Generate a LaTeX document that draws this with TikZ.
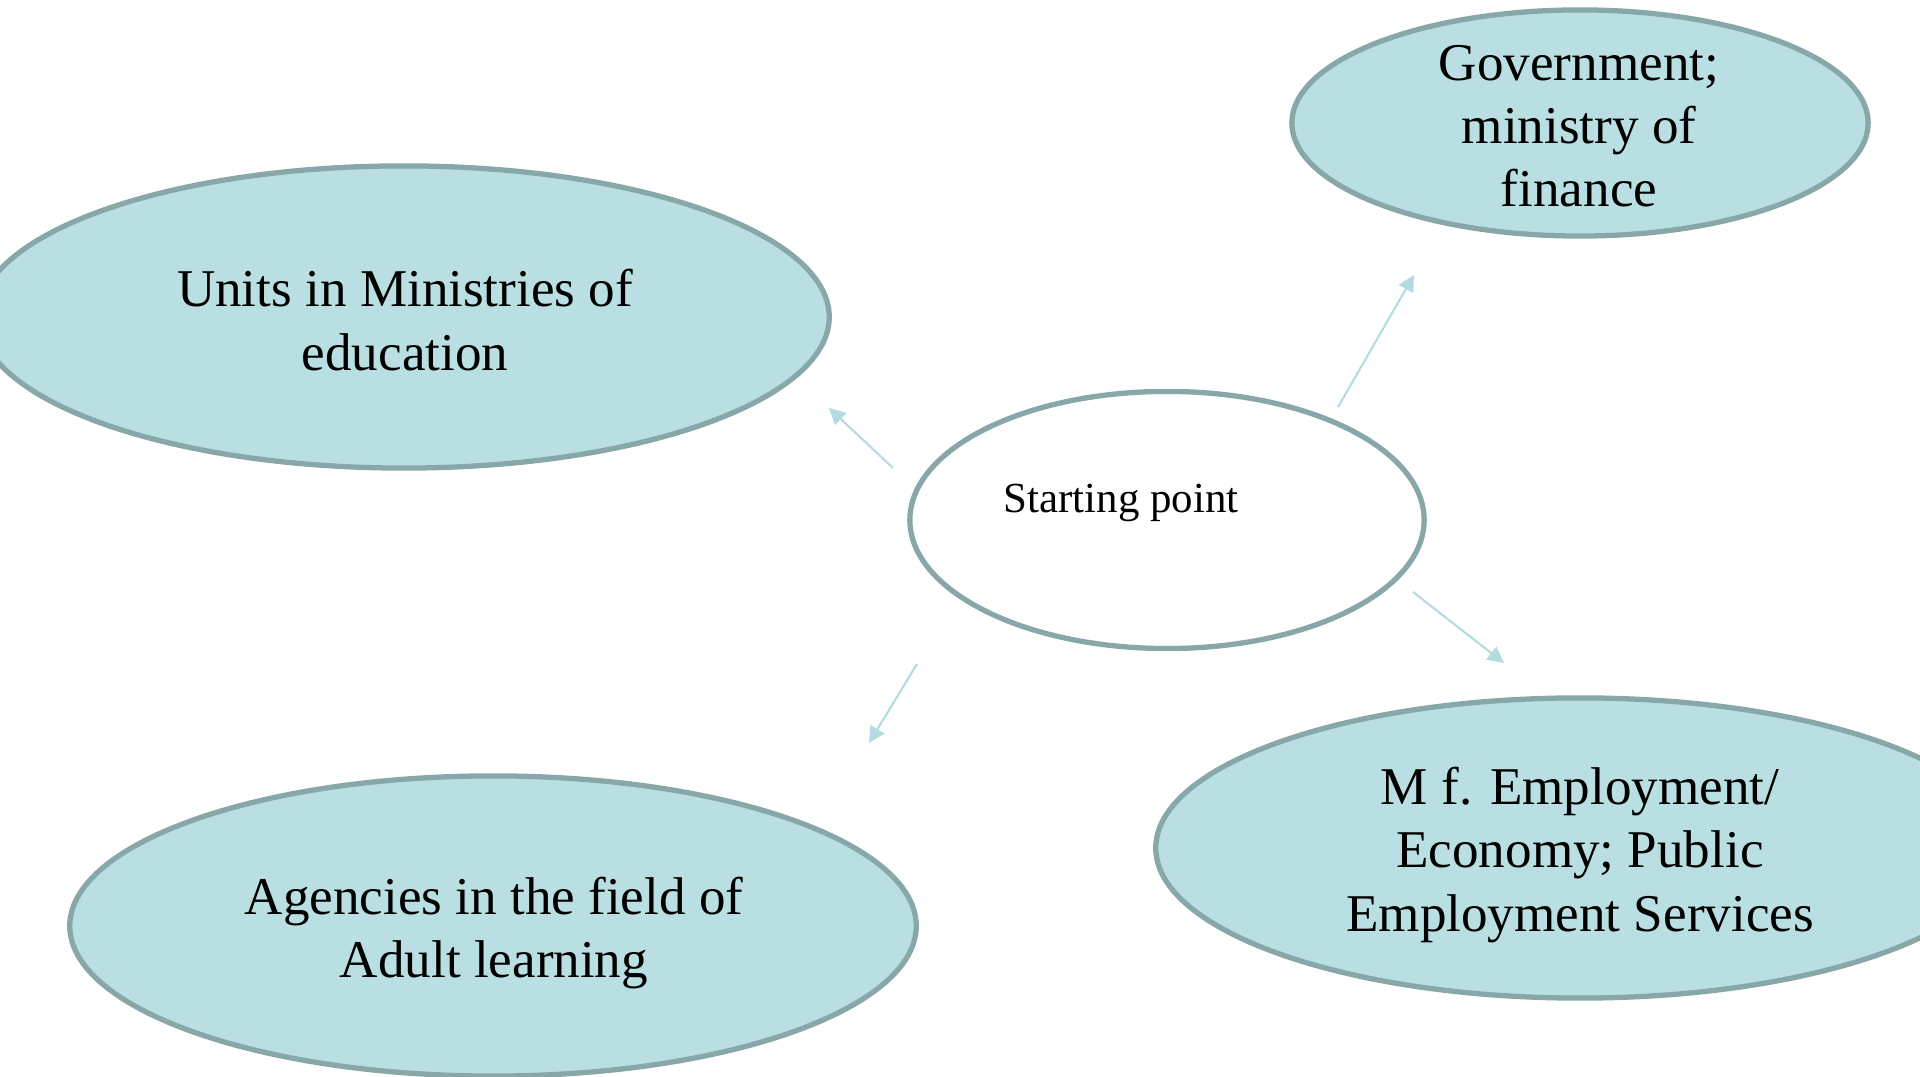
\documentclass[tikz,border=0pt]{standalone}
\usepackage{fontspec}
\setmainfont{Liberation Serif}
\usetikzlibrary{shapes.geometric,arrows.meta}
\definecolor{ellfill}{HTML}{B9DFE3}
\definecolor{elldraw}{HTML}{87A7A9}
\definecolor{arrcol}{HTML}{B3DCE0}
\tikzset{
  bubble/.style={ellipse, draw=elldraw, line width=1.5pt, fill=ellfill, inner sep=0pt},
  startbubble/.style={ellipse, draw=elldraw, line width=1.5pt, fill=white, inner sep=0pt},
  bigtext/.style={font=\fontsize{15.1pt}{18pt}\selectfont, align=center},
  smalltext/.style={font=\fontsize{12.2pt}{14.5pt}\selectfont},
  link/.style={draw=arrcol, line width=0.6pt, -{Triangle[length=4.6pt,width=4.6pt]}}
}
\begin{document}
\begin{tikzpicture}[x=0.01cm,y=-0.01cm]
\useasboundingbox (0,0) rectangle (1920,1077);
\begin{scope}
\clip (0,0) rectangle (1920,1077);
% ellipses
\node[bubble, minimum width=8.5cm, minimum height=3.02cm] (units) at (404,317) {};
\node[bubble, minimum width=5.76cm, minimum height=2.26cm] (gov) at (1580,123) {};
\node[startbubble, minimum width=5.14cm, minimum height=2.57cm] (start) at (1167,520) {};
\node[bubble, minimum width=8.48cm, minimum height=3.0cm] (empl) at (1580,848) {};
\node[bubble, minimum width=8.46cm, minimum height=3.0cm] (agen) at (493,926) {};
\end{scope}
% texts
\node[bigtext] (unitst) at (405,320) {Units in Ministries of\\education};
\node[bigtext] (govt) at (1579,126) {Government;\\ministry of\\finance};
\node[smalltext] (startt) at (1121,503) {Starting point};
\node[bigtext] (emplt) at (1580,855) {M f. Employment/\\Economy; Public\\Employment Services};
\node[bigtext] (agent) at (494,933) {Agencies in the field of\\Adult learning};
% connector ends
\coordinate (a1s) at (893,468); \coordinate (a1e) at (829,408);
\coordinate (a2s) at (1338,407); \coordinate (a2e) at (1414,275);
\coordinate (a3s) at (917,664); \coordinate (a3e) at (869,743);
\coordinate (a4s) at (1413,592); \coordinate (a4e) at (1504,663);
\draw[link] (a1s) -- (a1e);
\draw[link] (a2s) -- (a2e);
\draw[link] (a3s) -- (a3e);
\draw[link] (a4s) -- (a4e);
\end{tikzpicture}
\end{document}
